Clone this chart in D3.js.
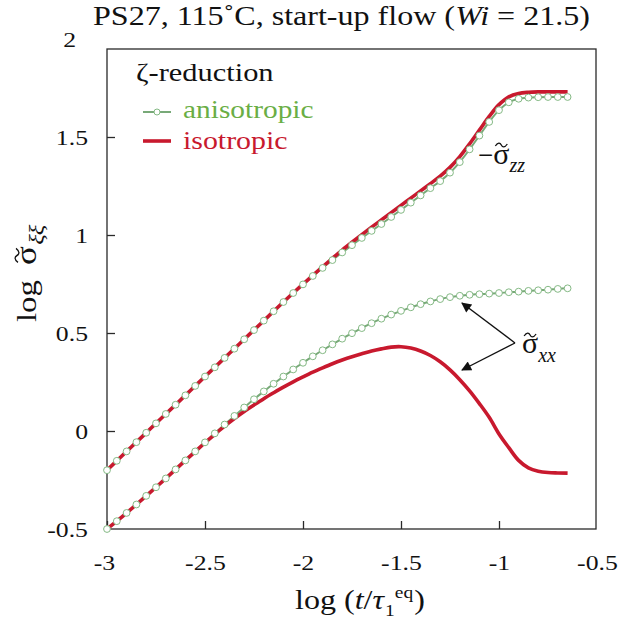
<!DOCTYPE html>
<html>
<head>
<meta charset="utf-8">
<script src="https://cdn.jsdelivr.net/npm/d3@7/dist/d3.min.js"></script>
<style>
  html, body { margin: 0; padding: 0; background: #fff; }
  svg { display: block; }
  svg text { font-family: "Liberation Serif", "Times New Roman", serif; fill: #111; }
</style>
</head>
<body>
<div id="chart"></div>
<script>
// ---- data ----
const logT = [-3, -2.95, -2.9, -2.85, -2.8, -2.75, -2.7, -2.65, -2.6, -2.55,
  -2.5, -2.45, -2.4, -2.35, -2.3, -2.25, -2.2, -2.15, -2.1, -2.05,
  -2, -1.95, -1.9, -1.85, -1.8, -1.75, -1.7, -1.65, -1.6, -1.55,
  -1.5, -1.45, -1.4, -1.35, -1.3, -1.25, -1.2, -1.15, -1.1, -1.05,
  -1, -0.95, -0.9, -0.85, -0.8, -0.75, -0.7, -0.65];

const zzIsotropic = [-0.200, -0.152, -0.104, -0.057, -0.009, 0.039, 0.087, 0.134, 0.182, 0.230,
  0.278, 0.325, 0.373, 0.420, 0.468, 0.515, 0.563, 0.611, 0.658, 0.704,
  0.749, 0.794, 0.838, 0.881, 0.923, 0.963, 1.002, 1.040, 1.077, 1.114,
  1.151, 1.188, 1.225, 1.262, 1.300, 1.345, 1.400, 1.465, 1.535, 1.605,
  1.665, 1.705, 1.722, 1.728, 1.730, 1.730, 1.730, 1.730];

const zzAnisotropic = [-0.200, -0.152, -0.104, -0.057, -0.009, 0.039, 0.087, 0.134, 0.182, 0.230,
  0.278, 0.325, 0.373, 0.420, 0.468, 0.515, 0.563, 0.611, 0.658, 0.704,
  0.748, 0.791, 0.832, 0.872, 0.911, 0.948, 0.985, 1.021, 1.056, 1.092,
  1.128, 1.165, 1.202, 1.239, 1.275, 1.318, 1.372, 1.437, 1.507, 1.577,
  1.637, 1.677, 1.695, 1.701, 1.703, 1.704, 1.704, 1.704];

const xxAnisotropic = [-0.500, -0.460, -0.418, -0.375, -0.331, -0.287, -0.242, -0.196, -0.150, -0.104,
  -0.058, -0.012, 0.033, 0.077, 0.120, 0.162, 0.202, 0.241, 0.278, 0.314,
  0.348, 0.381, 0.412, 0.442, 0.471, 0.499, 0.525, 0.550, 0.573, 0.594,
  0.613, 0.631, 0.647, 0.661, 0.673, 0.683, 0.690, 0.695, 0.698, 0.701,
  0.704, 0.708, 0.711, 0.715, 0.718, 0.721, 0.725, 0.728];

const xxIsotropic = [-0.500, -0.460, -0.418, -0.375, -0.331, -0.287, -0.242, -0.196, -0.150, -0.105,
  -0.060, -0.017, 0.025, 0.064, 0.100, 0.133, 0.165, 0.195, 0.224, 0.251,
  0.276, 0.300, 0.322, 0.343, 0.362, 0.379, 0.394, 0.408, 0.419, 0.428,
  0.430, 0.423, 0.408, 0.385, 0.353, 0.312, 0.262, 0.205, 0.140, 0.070,
  -0.015, -0.085, -0.150, -0.188, -0.205, -0.212, -0.214, -0.215];

const xTicks = [-3, -2.5, -2, -1.5, -1, -0.5];
const yTicks = [-0.5, 0, 0.5, 1, 1.5, 2];
const legendTitle = "ζ-reduction";
const legendLabels = ["anisotropic", "isotropic"];

// ---- styles ----
const FONT = "Liberation Serif";
const RED = "#c8192e";
const GREEN_LINE = "#78a978";
const GREEN_MARK = "#84b984";
const GREEN_TEXT = "#6aae45";
const S = 1.17; // horizontal stretch of the reference's serif type

const W = 618, H = 630;
const svg = d3.select("#chart").append("svg").attr("width", W).attr("height", H)
  .attr("font-family", FONT);

const left = 107, right = 597, bottom = 529, frameTop = 49, frameRight = 596;
const x = d3.scaleLinear().domain([-3, -0.5]).range([left, right]);
const y = d3.scaleLinear().domain([-0.5, 2]).range([bottom, 39]);

// frame
svg.append("rect").attr("x", left).attr("y", frameTop)
  .attr("width", frameRight - left).attr("height", bottom - frameTop)
  .attr("fill", "none").attr("stroke", "#2a2a2a").attr("stroke-width", 1.3);

// axes
const xAxis = d3.axisBottom(x).tickValues(xTicks).tickSizeInner(-8).tickSizeOuter(0)
  .tickPadding(25).tickFormat(d => String(d));
const gx = svg.append("g").attr("transform", `translate(0,${bottom})`).call(xAxis);
gx.attr("font-family", FONT);
gx.select(".domain").remove();
gx.selectAll("line").attr("stroke", "#2a2a2a").attr("stroke-width", 1.3);
gx.selectAll("text").style("font-size", "22px").style("font-family", FONT)
  .attr("fill", "#111").attr("transform", `scale(${S},1)`);
gx.selectAll(".tick").filter(d => d === -3).select("text").attr("x", -3 / S);
gx.selectAll(".tick").filter(d => d === -0.5).select("line").remove();

const yAxis = d3.axisLeft(y).tickValues(yTicks).tickSizeInner(-8).tickSizeOuter(0)
  .tickPadding(19).tickFormat(d => String(d));
const gy = svg.append("g").attr("transform", `translate(${left},0)`).call(yAxis);
gy.attr("font-family", FONT);
gy.select(".domain").remove();
gy.selectAll("line").attr("stroke", "#2a2a2a").attr("stroke-width", 1.3);
gy.selectAll("text").style("font-size", "22px").style("font-family", FONT)
  .attr("fill", "#111").attr("x", -19 / S).attr("transform", `scale(${S},1)`);
gy.selectAll(".tick").filter(d => d === 2).select("text").attr("x", -31 / S);
gy.selectAll(".tick").filter(d => d === 2 || d === -0.5).select("line").remove();

// lines
const lineGen = d3.line().x(d => x(d[0])).y(d => y(d[1])).curve(d3.curveCatmullRom);
const pairs = arr => logT.map((t, i) => [t, arr[i]]);
const plot = svg.append("g");

[zzAnisotropic, xxAnisotropic].forEach(s => {
  plot.append("path").attr("d", lineGen(pairs(s))).attr("fill", "none")
    .attr("stroke", GREEN_LINE).attr("stroke-width", 2);
});
[zzIsotropic, xxIsotropic].forEach(s => {
  plot.append("path").attr("d", lineGen(pairs(s))).attr("fill", "none")
    .attr("stroke", RED).attr("stroke-width", 3.6);
});
[zzAnisotropic, xxAnisotropic].forEach(s => {
  plot.selectAll(null).data(pairs(s)).enter().append("circle")
    .attr("cx", d => x(d[0])).attr("cy", d => y(d[1])).attr("r", 3.4)
    .attr("fill", "#fff").attr("stroke", GREEN_MARK).attr("stroke-width", 1);
});

// rich text helper: parts laid out left to right, returns natural width
function tildePath(g, cx, cy, w) {
  const h = w / 2;
  g.append("path")
    .attr("d", `M${cx - h},${cy + 1} C${cx - h * 0.55},${cy - 3} ${cx - h * 0.2},${cy - 2.5} ${cx},${cy}` +
               ` S${cx + h * 0.55},${cy + 3} ${cx + h},${cy - 1}`)
    .attr("fill", "none").attr("stroke", "#111").attr("stroke-width", 1.3);
}
function compose(g, parts) {
  let cx = 0, subStart = 0;
  parts.forEach(p => {
    const px = p.stack ? subStart : cx + (p.dx || 0);
    const t = g.append("text").attr("x", px).attr("y", p.dy || 0)
      .style("font-size", p.size + "px")
      .style("font-family", FONT)
      .style("font-style", p.italic ? "italic" : "normal")
      .attr("fill", p.fill || "#111")
      .text(p.t);
    const w = t.node().getComputedTextLength();
    if (p.tilde) tildePath(g, px + w / 2 + (p.tx || 0), (p.dy || 0) - p.ty, p.tw);
    if (!p.stack) subStart = px + w;
    cx = Math.max(cx, px + w);
  });
  return cx;
}

// title
const gt = svg.append("g");
const tw = compose(gt, [
  { t: "PS27, 115˚C, start-up flow (", size: 27 },
  { t: "Wi", size: 27, italic: true },
  { t: "\u00A0=\u00A021.5)", size: 27 }
]);
const tS = 497 / tw;
gt.attr("transform", `translate(${93},25) scale(${tS},1)`);

// x label
const gxl = svg.append("g");
const xw = compose(gxl, [
  { t: "log\u00A0(", size: 28 },
  { t: "t", size: 28, italic: true },
  { t: "/", size: 28 },
  { t: "τ", size: 28, italic: true },
  { t: "1", size: 17, dy: 7, dx: 1 },
  { t: "eq", size: 17, dy: -11, stack: true },
  { t: ")", size: 28, dx: 1 }
]);
gxl.attr("transform", `translate(295,609) scale(${130 / xw},1)`);

// y label (rotated)
const gyl = svg.append("g");
compose(gyl, [
  { t: "log", size: 28 },
  { t: "σ", size: 30, dx: 13, tilde: true, ty: 19, tw: 12 },
  { t: "ξξ", size: 21, italic: true, dy: 8, dx: 1 }
]);
gyl.attr("transform", `translate(36,322) rotate(-90) scale(${S},1)`);

// legend
svg.append("text").attr("transform", `translate(136,81) scale(${S},1)`)
  .style("font-size", "26px").style("font-family", FONT).text(legendTitle);
svg.append("line").attr("x1", 143).attr("x2", 171).attr("y1", 112).attr("y2", 112)
  .attr("stroke", GREEN_LINE).attr("stroke-width", 2);
svg.append("circle").attr("cx", 157).attr("cy", 112).attr("r", 3)
  .attr("fill", "#fff").attr("stroke", GREEN_MARK).attr("stroke-width", 1);
svg.append("text").attr("transform", `translate(183,118) scale(1.13,1)`)
  .style("font-size", "26px").style("font-family", FONT)
  .attr("fill", GREEN_TEXT).style("fill", GREEN_TEXT).text(legendLabels[0]);
svg.append("line").attr("x1", 143).attr("x2", 171).attr("y1", 141).attr("y2", 141)
  .attr("stroke", RED).attr("stroke-width", 3.6);
svg.append("text").attr("transform", `translate(183,149) scale(1.15,1)`)
  .style("font-size", "26px").style("font-family", FONT)
  .attr("fill", RED).style("fill", RED).text(legendLabels[1]);

// annotations
const gzz = svg.append("g").attr("transform", "translate(478,164)");
compose(gzz, [
  { t: "−", size: 27 },
  { t: "σ", size: 30, tilde: true, ty: 19, tw: 12 },
  { t: "zz", size: 20, italic: true, dy: 8 }
]);
const gxx = svg.append("g").attr("transform", "translate(522,353)");
compose(gxx, [
  { t: "σ", size: 30, tilde: true, ty: 18, tw: 12 },
  { t: "xx", size: 20, italic: true, dy: 9 }
]);

// arrows
const defs = svg.append("defs");
defs.append("marker").attr("id", "ah").attr("viewBox", "0 0 10 10")
  .attr("refX", 9).attr("refY", 5).attr("markerWidth", 13).attr("markerHeight", 10)
  .attr("markerUnits", "userSpaceOnUse").attr("orient", "auto")
  .append("path").attr("d", "M0,0 L10,5 L0,10 z").attr("fill", "#111");
[[462, 303], [462, 370]].forEach(([tx, ty]) => {
  svg.append("line").attr("x1", 515).attr("y1", 343).attr("x2", tx).attr("y2", ty)
    .attr("stroke", "#111").attr("stroke-width", 1.4).attr("marker-end", "url(#ah)");
});
</script>
</body>
</html>
